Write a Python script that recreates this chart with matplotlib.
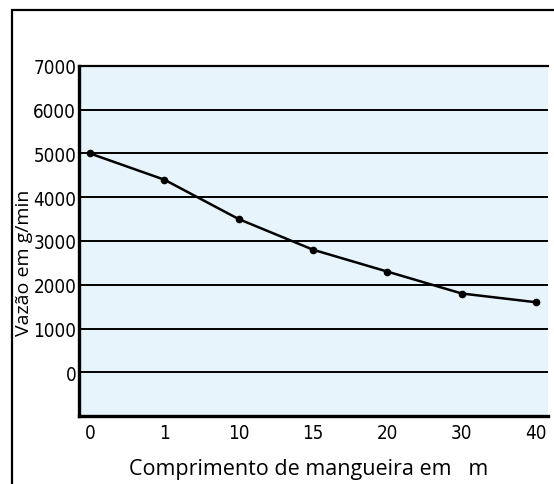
import matplotlib
matplotlib.use("Agg")
import matplotlib.pyplot as plt
from matplotlib.patches import Rectangle
from matplotlib import font_manager

categories = ["0", "1", "10", "15", "20", "30", "40"]
values = [5000, 4400, 3500, 2800, 2300, 1800, 1600]
yticks = [0, 1000, 2000, 3000, 4000, 5000, 6000, 7000]

W, H = 554, 485
fig = plt.figure(figsize=(W / 100, H / 100), dpi=100)
fig.patch.set_facecolor("white")

# outer frame
fig.patches.append(Rectangle((12 / W, -0.1), 1.2, 1 - 11 / H + 0.1, transform=fig.transFigure,
                             fill=False, edgecolor="black", linewidth=1.6, clip_on=False))

left, right, top, bottom = 79 / W, 548 / W, 1 - 67 / H, 1 - 417 / H
ax = fig.add_axes([left, bottom, right - left, top - bottom])
ax.set_facecolor("#e8f4fc")

x = list(range(len(categories)))
ax.set_xlim(-0.15, len(categories) - 1 + 0.16)
ax.set_ylim(-1000, 7000)

for yv in yticks:
    ax.axhline(yv, color="black", linewidth=1.4, zorder=1)

ax.plot(x, values, color="black", linewidth=1.8, marker="o", markersize=4.5, zorder=3)

names = {f.name for f in font_manager.fontManager.ttflist}
if "Liberation Sans Narrow" in names:
    tickprops = dict(fontfamily="Liberation Sans Narrow", fontsize=14)
else:
    tickprops = dict(fontfamily="DejaVu Sans", fontstretch="condensed", fontsize=13.5)

ax.set_xticks(x)
ax.set_xticklabels(categories, **tickprops)
ax.set_yticks(yticks)
ax.set_yticklabels([str(v) for v in yticks], **tickprops)
ax.tick_params(length=0, pad=2)
ax.tick_params(axis="x", pad=5)

ax.spines["right"].set_visible(False)
ax.spines["top"].set_linewidth(1.6)
ax.spines["left"].set_linewidth(2.4)
ax.spines["bottom"].set_linewidth(2.4)

labelfont = ["Open Sans", "DejaVu Sans"]
fig.text(309 / W, 1 - 470 / H, "Comprimento de mangueira em   m", ha="center", va="center",
         fontsize=15.5, fontfamily=labelfont)
fig.text(24 / W, 1 - 263 / H, "Vazão em g/min", ha="center", va="center", rotation=90,
         fontsize=14, fontfamily=labelfont)

fig.savefig("out.png", dpi=100)
